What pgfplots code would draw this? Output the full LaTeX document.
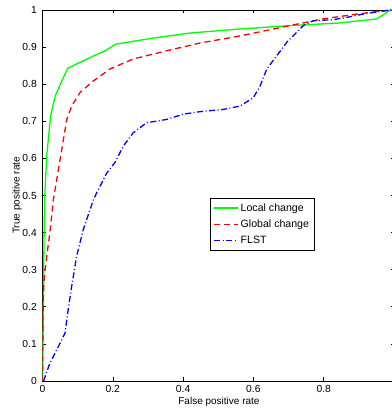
\documentclass[border=0pt]{standalone}
\usepackage{pgfplots}
\pgfplotsset{compat=1.18}
\usepackage{fontspec}
\setmainfont{Liberation Sans}
\begin{document}
\begin{tikzpicture}
\useasboundingbox (-42.5pt,-31pt) rectangle (348.5pt,381pt);
\begin{axis}[
  at={(0,0)}, anchor=south west,
  scale only axis, width=351.5pt, height=371pt,
  xmin=0, xmax=1, ymin=0, ymax=1,
  xtick={0,0.2,0.4,0.6,0.8},
  ytick={0,0.1,0.2,0.3,0.4,0.5,0.6,0.7,0.8,0.9,1},
  /pgf/number format/assume math mode=true,
  tick align=inside, major tick length=3.5pt,
  tick style={black, line width=0.6pt},
  axis line style={black, line width=0.8pt},
  ticklabel style={font=\fontsize{10.3}{12}\selectfont},
  yticklabel style={inner sep=0pt, anchor=east},
  yticklabel shift=5.5pt,
  xticklabel style={inner sep=0pt, anchor=north},
  xticklabel shift=4pt,
  xlabel={False positive rate},
  ylabel={True positive rate},
  label style={font=\fontsize{10.6}{12}\selectfont},
  every axis x label/.style={at={(axis description cs:0.502,-0.0566)}, anchor=center},
  every axis y label/.style={at={(axis description cs:-0.0725,0.5)}, anchor=center, rotate=90},
  legend style={at={(axis description cs:0.4765,0.4933)}, anchor=north west,
    draw=black, line width=0.8pt, fill=white, font=\fontsize{10.6}{12}\selectfont,
    inner xsep=3pt, inner ysep=3pt, row sep=3.2pt,
    cells={anchor=west}},
  legend image code/.code={\draw[#1] (0pt,0pt) -- (24pt,0pt);},
]
\addplot[color={rgb,1:red,0;green,1;blue,0}, line width=1.3pt] coordinates {
(0,0) (0.002,0.15) (0.004,0.35) (0.006,0.49) (0.012,0.606) (0.023,0.714)
(0.036,0.768) (0.053,0.805) (0.072,0.843) (0.107,0.859) (0.145,0.876)
(0.178,0.89) (0.209,0.908) (0.306,0.923) (0.42,0.938) (0.55,0.948)
(0.704,0.958) (0.846,0.965) (0.951,0.976) (0.99,1.0) (1,1)};
\addlegendentry{Local change}
\addplot[color={rgb,1:red,1;green,0;blue,0}, line width=1.3pt, dash pattern=on 6pt off 4pt] coordinates {
(0,0) (0.001,0.1) (0.002,0.22) (0.005,0.28) (0.012,0.336) (0.021,0.40)
(0.031,0.489) (0.05,0.597) (0.069,0.705) (0.083,0.741) (0.107,0.778)
(0.145,0.809) (0.192,0.841) (0.258,0.868) (0.353,0.89) (0.448,0.911)
(0.562,0.93) (0.704,0.958) (0.798,0.976) (0.894,0.989) (0.99,1.0) (1,1)};
\addlegendentry{Global change}
\addplot[color={rgb,1:red,0;green,0;blue,1}, line width=1.3pt, dash pattern=on 6pt off 2.5pt on 1pt off 2.5pt] coordinates {
(0.003,0) (0.021,0.048) (0.05,0.102) (0.064,0.129) (0.073,0.192) (0.083,0.255)
(0.097,0.336) (0.116,0.408) (0.145,0.489) (0.154,0.507) (0.183,0.561)
(0.206,0.589) (0.23,0.633) (0.258,0.669) (0.296,0.696) (0.353,0.705)
(0.4,0.719) (0.448,0.726) (0.514,0.732) (0.562,0.741) (0.6,0.764)
(0.619,0.795) (0.638,0.841) (0.666,0.876) (0.695,0.913) (0.742,0.958)
(0.77,0.971) (0.827,0.974) (0.865,0.98) (0.912,0.989) (0.99,1.0) (1,1)};
\addlegendentry{FLST}
\end{axis}
\end{tikzpicture}
\end{document}
